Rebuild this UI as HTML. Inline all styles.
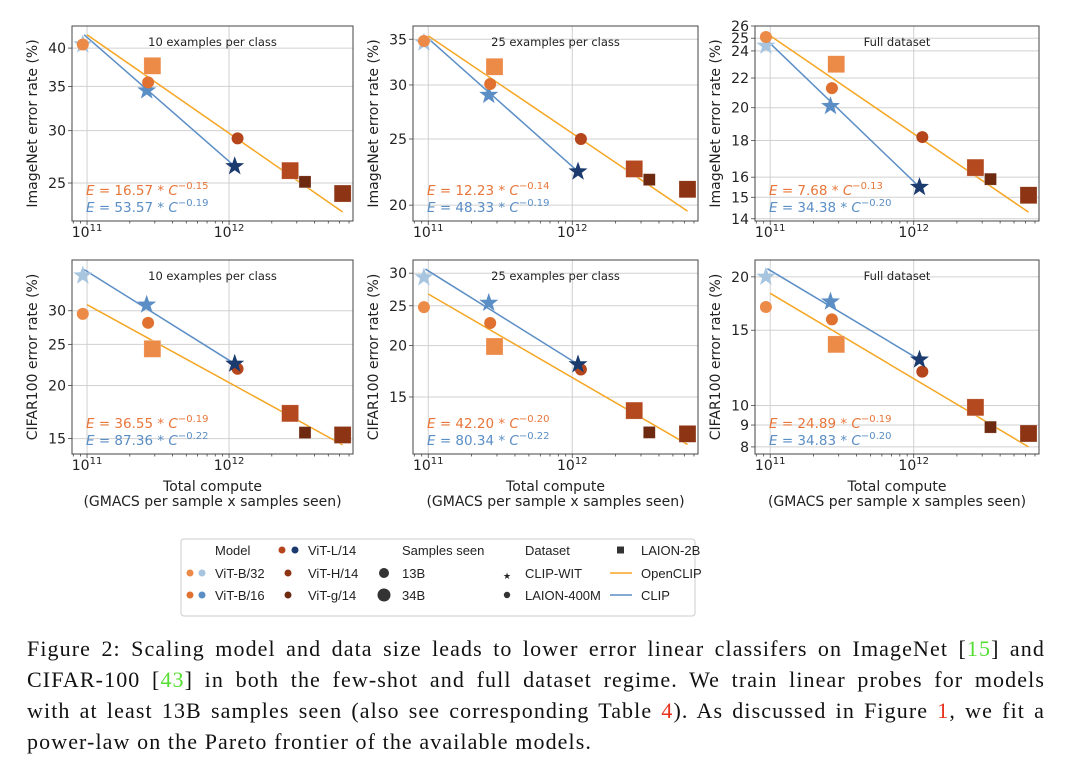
<!DOCTYPE html>
<html><head><meta charset="utf-8">
<style>
body{margin:0;background:#fff;width:1080px;height:778px;overflow:hidden;position:relative;font-family:"DejaVu Sans","Liberation Sans",sans-serif;}
svg{position:absolute;left:0;top:0}
#caption{position:absolute;left:27px;top:633px;width:1018px;font-family:"Liberation Serif",serif;font-size:22px;letter-spacing:1.1px;line-height:31px;color:#111;}
#caption div{text-align:justify;text-align-last:justify;white-space:nowrap;}
#caption div.last{text-align-last:left;}
.g{color:#55dd33}.r{color:#e8321c}
</style></head><body>
<svg id="chart" width="1080" height="778"></svg>
<div id="caption">
<div>Figure 2: Scaling model and data size leads to lower error linear classifers on ImageNet [<span class="g">15</span>] and</div>
<div>CIFAR-100 [<span class="g">43</span>] in both the few-shot and full dataset regime. We train linear probes for models</div>
<div>with at least 13B samples seen (also see corresponding Table <span class="r">4</span>). As discussed in Figure <span class="r">1</span>, we fit a</div>
<div class="last">power-law on the Pareto frontier of the available models.</div>
</div>
<script>
// ---- data ----
const pointNames = ["clip-b32","oc-b32-400m","oc-b32-2b","clip-b16","oc-b16-400m","oc-l14-400m","clip-l14","oc-l14-2b","oc-h14-2b","oc-g14-2b"];
const pointLogX = [10.97,10.97,11.46,11.42,11.43,12.06,12.04,12.43,12.535,12.80];
const pointShape = ["star","circle","bigsquare","star","circle","circle","star","bigsquare","square","bigsquare"];
const pointColor = ["#a8c5e0","#ec8a48","#ec8a48","#5b8ec5","#e07130","#b5461c","#1b3a6e","#b4481e","#6e2a10","#8c3414"];
const imnet10 = [40.5,40.5,37.6,34.5,35.5,29.2,26.5,26.1,25.1,24.1];
const imnet25 = [34.6,34.8,31.9,29.0,30.1,25.0,22.4,22.6,21.8,21.1];
const imnetFull = [24.4,25.1,23.0,20.1,21.3,18.2,15.5,16.5,15.9,15.1];
const cifar10 = [36.3,29.5,24.4,31.0,28.1,21.9,22.5,17.2,15.5,15.3];
const cifar25 = [29.3,24.8,19.9,25.4,22.7,17.5,18.0,13.9,12.3,12.2];
const cifarFull = [20.0,17.0,13.9,17.5,15.9,12.0,12.8,9.9,8.9,8.6];
const fitXOpen = [11.0,12.8];
const fitXClip = [10.98,12.04];
const fitOpen = [[41.9,22.6],[35.4,19.6],[25.2,14.3],[31.0,14.5],[26.7,11.5],[18.3,8.0]];
const fitClip = [[41.9,26.5],[35.4,22.4],[24.8,15.5],[37.5,22.5],[30.7,18.0],[20.9,12.8]];
const formulaOpen = [["16.57","0.15"],["12.23","0.14"],["7.68","0.13"],["36.55","0.19"],["42.20","0.20"],["24.89","0.19"]];
const formulaClip = [["53.57","0.19"],["48.33","0.19"],["34.38","0.20"],["87.36","0.22"],["80.34","0.22"],["34.83","0.20"]];
const titles = ["10 examples per class","25 examples per class","Full dataset","10 examples per class","25 examples per class","Full dataset"];
const yTicks = [[25,30,35,40],[20,25,30,35],[14,15,16,18,20,22,24,25,26],[15,20,25,30],[15,20,25,30],[8,9,10,15,20]];
const yLims = [[21.9,43.2],[18.96,36.6],[13.9,26.0],[13.8,39.5],[10.9,32.3],[7.7,21.9]];
const xLim = [10.894,12.873];
const panelValues = [imnet10,imnet25,imnetFull,cifar10,cifar25,cifarFull];

const NS="http://www.w3.org/2000/svg";
const svg=document.getElementById('chart');
function mk(tag,attrs,parent){const e=document.createElementNS(NS,tag);for(const k in attrs)e.setAttribute(k,attrs[k]);(parent||svg).appendChild(e);return e;}
const colX=[72,413,755], colW=[281,285,284];
const rowY=[[26,221],[260,454]];
const lg=Math.log10;

for(let p=0;p<6;p++){
  const r=Math.floor(p/3), c=p%3;
  const x0=colX[c], x1=colX[c]+colW[c], y0=rowY[r][0], y1=rowY[r][1];
  const xs=v=>x0+(v-xLim[0])/(xLim[1]-xLim[0])*(x1-x0);
  const ys=v=>y1-(lg(v)-lg(yLims[p][0]))/(lg(yLims[p][1])-lg(yLims[p][0]))*(y1-y0);
  const g=mk('g',{});
  
  
  [11,12].forEach(e=>{const l=mk('line',{x1:xs(e),x2:xs(e),y1:y0,y2:y1,stroke:'#d0d0d0','stroke-width':1},g);});
  yTicks[p].forEach(v=>{const l=mk('line',{x1:x0,x2:x1,y1:ys(v),y2:ys(v),stroke:'#d0d0d0','stroke-width':1},g);});
  const fr=mk('rect',{x:x0,y:y0,width:x1-x0,height:y1-y0,fill:'none',stroke:'#444','stroke-width':1},g);
  
  for(let e=10;e<=12;e++)for(let m=1;m<10;m++){const v=e+lg(m);if(v<xLim[0]||v>xLim[1])continue;
    const t=mk('line',{x1:xs(v),x2:xs(v),y1:y1,y2:y1+(m===1?4:2.5),stroke:'#444','stroke-width':0.8},g);}
  [11,12].forEach(e=>{const t=mk('text',{x:xs(e),y:y1+16,'text-anchor':'middle','font-size':14,fill:'#222'},g);
    
    t.innerHTML='10<tspan dy="-6" font-size="10">'+e+'</tspan>';});
  yTicks[p].forEach(v=>{const y=ys(v);mk('line',{x1:x0-4,x2:x0,y1:y,y2:y,stroke:'#444','stroke-width':0.8},g);
    const t=mk('text',{x:x0-6,y:y+5,'text-anchor':'end','font-size':14,fill:'#222'},g);t.textContent=v;
    });
  const yl=mk('text',{x:0,y:0,transform:`translate(${x0-35},${(y0+y1)/2}) rotate(-90)`,'text-anchor':'middle','font-size':14,fill:'#222'},g);
  yl.textContent=r?'CIFAR100 error rate (%)':'ImageNet error rate (%)';
  
  const tt=mk('text',{x:(x0+x1)/2,y:y0+20,'text-anchor':'middle','font-size':11.5,fill:'#222'},g);tt.textContent=titles[p];
  
  if(r===1){const a=mk('text',{x:(x0+x1)/2,y:y1+37,'text-anchor':'middle','font-size':14,fill:'#222'},g);a.textContent='Total compute';
    
    const b=mk('text',{x:(x0+x1)/2,y:y1+52,'text-anchor':'middle','font-size':14,fill:'#222'},g);b.textContent='(GMACS per sample x samples seen)';
    }
  const lo=mk('line',{x1:xs(fitXOpen[0]),y1:ys(fitOpen[p][0]),x2:xs(fitXOpen[1]),y2:ys(fitOpen[p][1]),stroke:'#f5a623','stroke-width':1.5},g);
  
  const lc=mk('line',{x1:xs(fitXClip[0]),y1:ys(fitClip[p][0]),x2:xs(fitXClip[1]),y2:ys(fitClip[p][1]),stroke:'#5b8ec5','stroke-width':1.5},g);
  
  const vals=panelValues[p];
  for(let i=0;i<vals.length;i++){
    const cx=xs(pointLogX[i]), cy=ys(vals[i]), col=pointColor[i], sh=pointShape[i];let m;
    if(sh==='circle')m=mk('circle',{cx,cy,r:6,fill:col},g);
    else if(sh==='square')m=mk('rect',{x:cx-6,y:cy-6,width:12,height:12,fill:col,stroke:'#fff','stroke-opacity':0.5,'stroke-width':0.5},g);
    else if(sh==='bigsquare')m=mk('rect',{x:cx-8.5,y:cy-8.5,width:17,height:17,fill:col,stroke:'#fff','stroke-opacity':0.5,'stroke-width':0.5},g);
    else{let pts=[];for(let k=0;k<10;k++){const a=-Math.PI/2+k*Math.PI/5,rr=k%2?4:10;pts.push((cx+rr*Math.cos(a)).toFixed(1)+','+(cy+rr*Math.sin(a)).toFixed(1));}
      m=mk('polygon',{points:pts.join(' '),fill:col},g);}
    
    
  }
  [[formulaOpen[p],'#e8763a',y1-26,'openclip-formula'],[formulaClip[p],'#5b8ec5',y1-9,'clip-formula']].forEach(([f,col,y,n])=>{
    const t=mk('text',{x:x0+14,y,'font-size':13.5,fill:col},g);
    t.innerHTML='<tspan font-style="italic">E</tspan> = '+f[0]+' * <tspan font-style="italic">C</tspan><tspan dy="-6" font-size="10">\u2212'+f[1]+'</tspan>';
    });
}
// ---- legend ----
const L=mk('g',{});

const lb=mk('rect',{x:181,y:539,width:514,height:77,rx:3,fill:'#fff',stroke:'#ccc'},L);

function lt(x,y,s,n){const t=mk('text',{x,y:y+5,'font-size':13,fill:'#222','font-family':'Liberation Sans, sans-serif'},L);t.textContent=s;return t;}
function dot(x,y,r,c){return mk('circle',{cx:x,cy:y,r,fill:c},L);}
const ry=[550,573,595];
lt(215,ry[0],'Model','legend-model-header');
dot(190,ry[1],3.5,'#ec8a48');dot(202,ry[1],3.5,'#a8c5e0');lt(215,ry[1],'ViT-B/32','legend-entry-vit-b32');
dot(190,ry[2],3.5,'#e07130');dot(202,ry[2],3.5,'#5b8ec5');lt(215,ry[2],'ViT-B/16','legend-entry-vit-b16');
dot(282,ry[0],3.5,'#b5461c');dot(295,ry[0],3.5,'#1b3a6e');lt(308,ry[0],'ViT-L/14','legend-entry-vit-l14');
dot(288,ry[1],3.5,'#8c3414');lt(308,ry[1],'ViT-H/14','legend-entry-vit-h14');
dot(288,ry[2],3.5,'#6e2a10');lt(308,ry[2],'ViT-g/14','legend-entry-vit-g14');
lt(402,ry[0],'Samples seen','legend-samples-header');
dot(384,ry[1],5,'#333');lt(402,ry[1],'13B','legend-entry-13b');
dot(384,ry[2],6.5,'#333');lt(402,ry[2],'34B','legend-entry-34b');
lt(525,ry[0],'Dataset','legend-dataset-header');
lt(503,ry[1]+1,'\u2605','legend-star-marker').setAttribute('font-size','9');
lt(525,ry[1],'CLIP-WIT','legend-entry-clip-wit');
dot(507,ry[2],3.2,'#333');lt(525,ry[2],'LAION-400M','legend-entry-laion-400m');
mk('rect',{x:617,y:ry[0]-3.5,width:7,height:7,fill:'#333'},L);lt(641,ry[0],'LAION-2B','legend-entry-laion-2b');
mk('line',{x1:610,x2:632,y1:ry[1],y2:ry[1],stroke:'#f5a623','stroke-width':1.5},L);lt(641,ry[1],'OpenCLIP','legend-entry-openclip');
mk('line',{x1:610,x2:632,y1:ry[2],y2:ry[2],stroke:'#5b8ec5','stroke-width':1.5},L);lt(641,ry[2],'CLIP','legend-entry-clip');
</script>
</body></html>
